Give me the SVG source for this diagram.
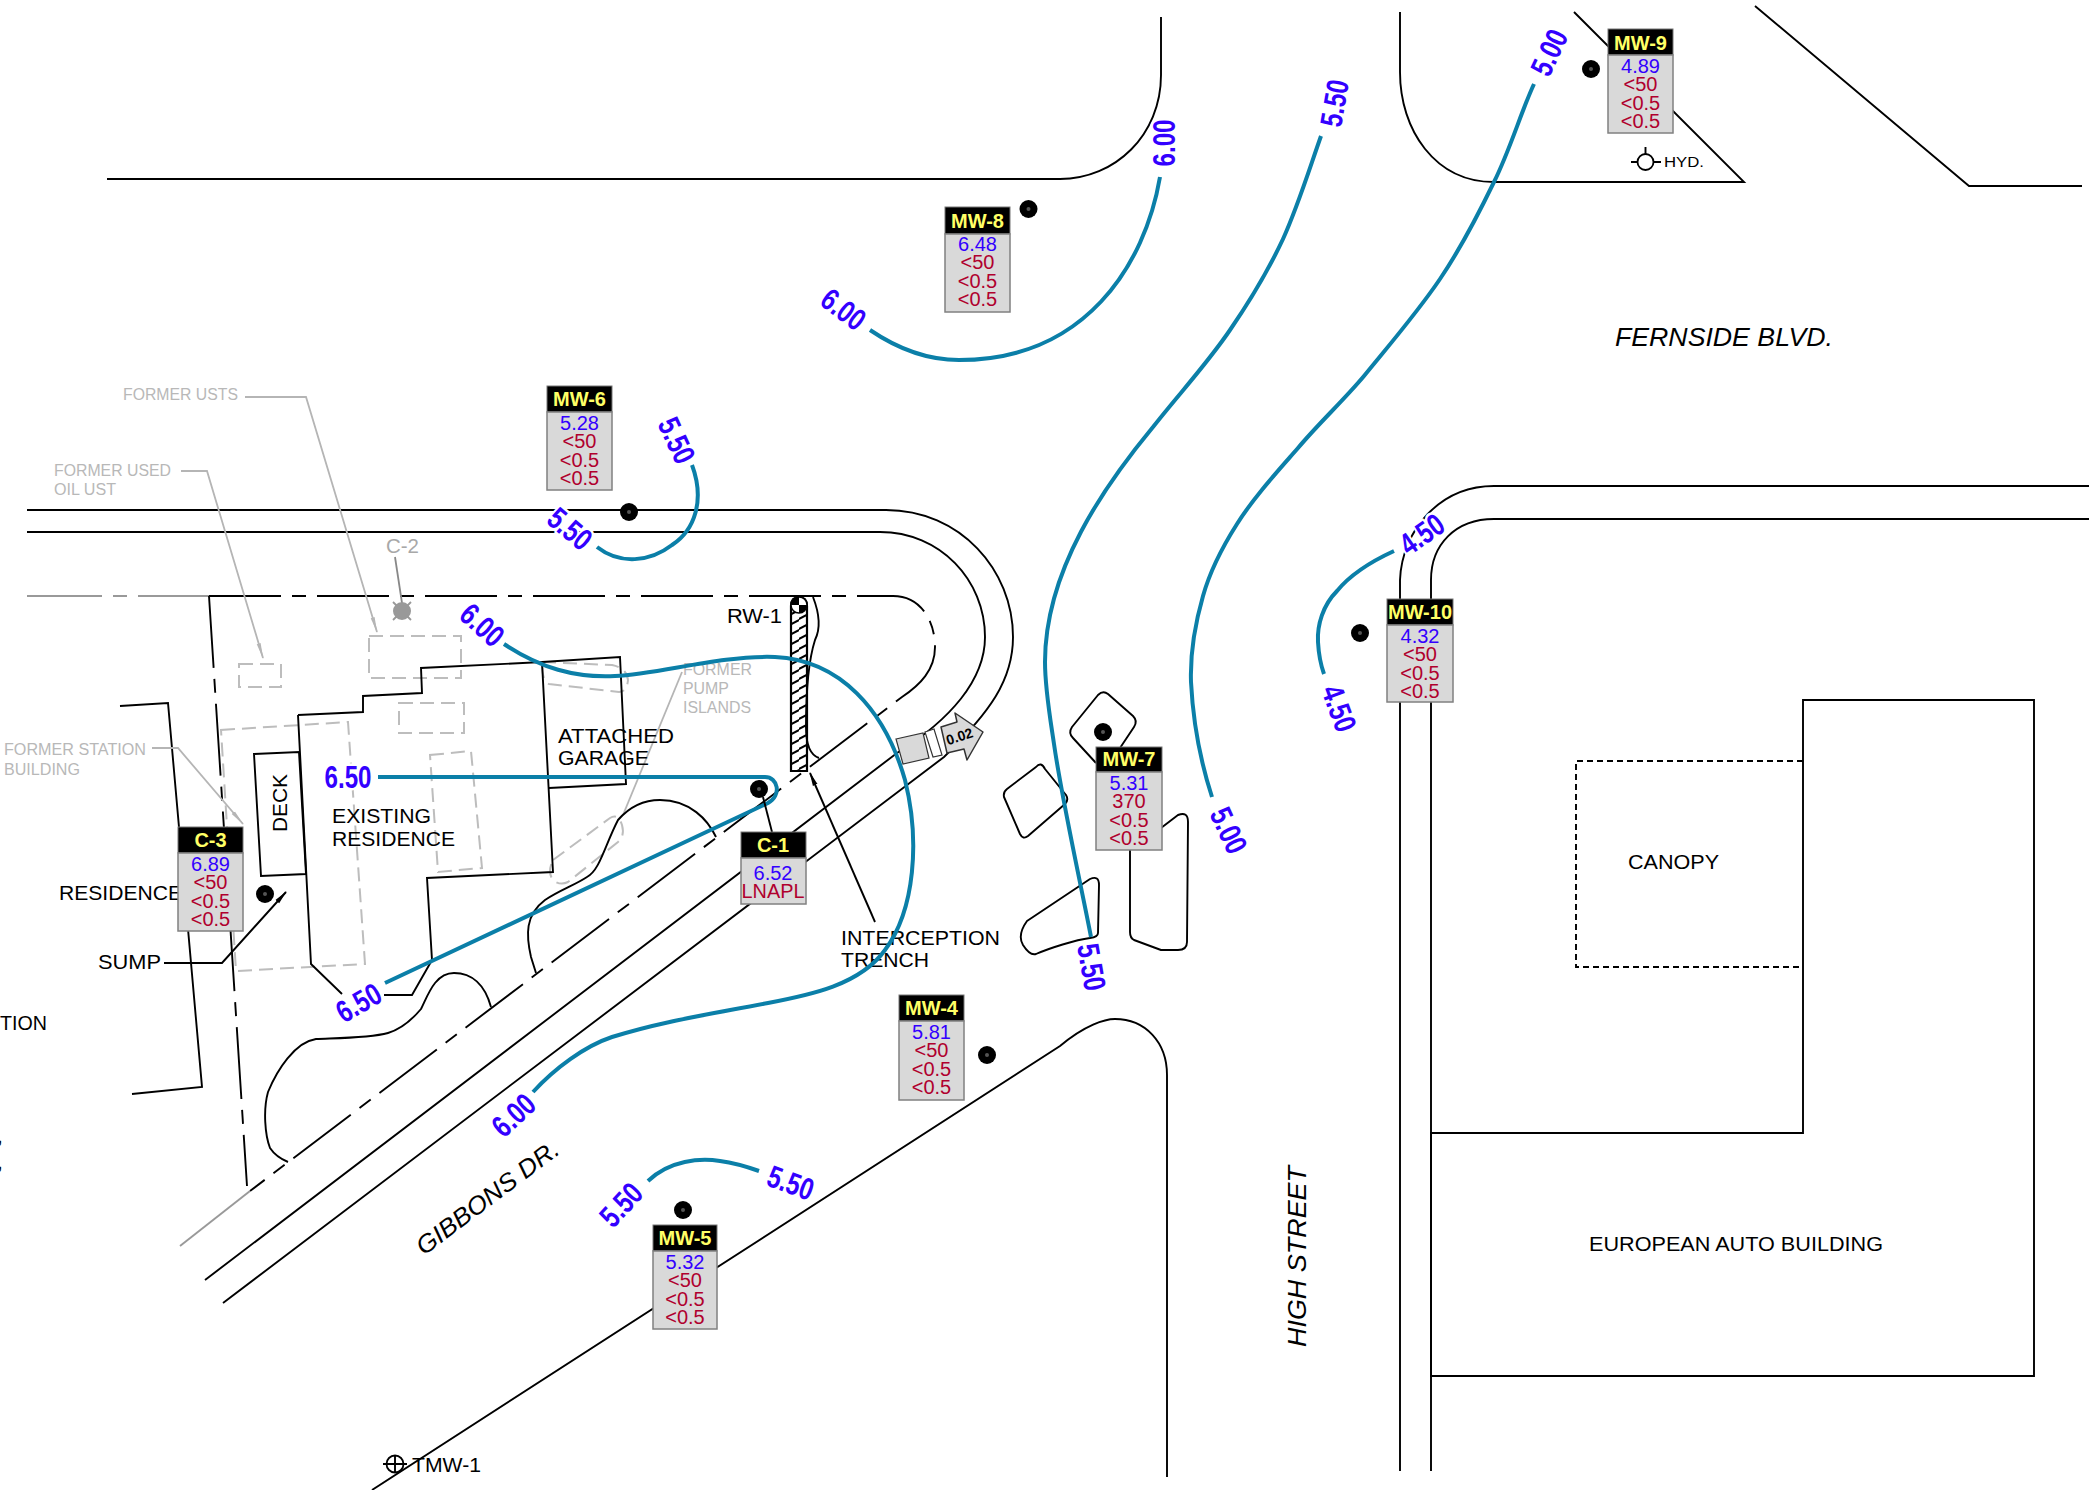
<svg xmlns="http://www.w3.org/2000/svg" width="2089" height="1490" viewBox="0 0 2089 1490">
<style>
text{font-family:"Liberation Sans",Arial,sans-serif}
.k{fill:none;stroke:#000;stroke-width:1.9}
.pl{fill:none;stroke:#000;stroke-width:1.9;stroke-dasharray:72 11 14 11}
.gd{fill:none;stroke:#bdbdbd;stroke-width:2;stroke-dasharray:14 7}
.gl{fill:none;stroke:#b5b5b5;stroke-width:1.8}
.c{fill:none;stroke:#0b7fa8;stroke-width:4}
.t{fill:#000;font-size:21px}
.g{fill:#b8b8b8;font-size:16px}
.it{fill:#000;font-size:25px;font-style:italic}
.cl{fill:#3300ff;font-size:31px;font-weight:bold;text-anchor:middle;stroke:#fff;stroke-width:5;paint-order:stroke;stroke-linejoin:round}
.hd{fill:#000;stroke:#777;stroke-width:1}
.bd{fill:#d9d9d9;stroke:#808080;stroke-width:1.5}
.n{font-size:20px;font-weight:bold;fill:#ffff66;text-anchor:middle}
.b{font-size:20px;fill:#3300ff;text-anchor:middle}
.r{font-size:20px;fill:#b0002e;text-anchor:middle}
.w{fill:#000}
.wc{fill:#555}
</style>
<defs>
<pattern id="hatch" patternUnits="userSpaceOnUse" width="17" height="10">
<path d="M-1,9.500 L18,-0.500 M-1,19.500 L18,9.500" stroke="#000" stroke-width="2" fill="none"/>
</pattern>
<marker id="ah" markerWidth="14" markerHeight="7" refX="13" refY="3.500" orient="auto" markerUnits="userSpaceOnUse"><path d="M0,1 L14,3.500 L0,6 Z" fill="#000"/></marker>
<marker id="ag" markerWidth="16" markerHeight="8" refX="15" refY="4" orient="auto" markerUnits="userSpaceOnUse"><path d="M0,2 L16,4 L0,6 Z" fill="#b5b5b5"/></marker>
</defs>

<g id="roads">
<path class="k" d="M107,179 H1060 C1115,179 1161,135 1161,75 V17"/>
<path class="k" d="M1400,12 V72 C1400,130 1435,182 1494,182 H1744 L1574,12"/>
<path class="k" d="M1755,6 L1969,186 H2082"/>
<path class="k" d="M27,510 H886 C960,510 1013,570 1013,637 C1013,680 990,712 944,757 L223,1303"/>
<path class="k" d="M27,532 H880 C940,532 985,580 985,637 C985,680 950,720 897,753 L205,1280"/>
<path class="pl" d="M209,596 H893 C920,596 935,620 935,647 C935,670 920,685 902,697 L250,1191"/>
<path fill="none" stroke="#999" stroke-width="1.9" stroke-dasharray="75 11 14 11" d="M27,596 H209"/>
<path fill="none" stroke="#999" stroke-width="1.9" d="M250,1191 L180,1246"/>
<path class="pl" d="M209,596 L247,1186"/>
<path class="k" d="M120,706 L168,703 L202,1087 L132,1094"/>
<path class="k" d="M1400,1471 V580 C1402,530 1440,486 1494,486 H2089"/>
<path class="k" d="M1431,1471 V580 C1431,545 1455,519 1494,519 H2089"/>
<path class="k" d="M372,1490 L1060,1046 C1085,1025 1105,1019 1115,1019 C1145,1019 1167,1042 1167,1075 V1477"/>
</g>

<g id="european-auto-building">
<path class="k" d="M1431,1133 H1803 V700 H2034 V1376 H1431 Z"/>
<text class="t" x="1589" y="1251" textLength="294" lengthAdjust="spacingAndGlyphs">EUROPEAN AUTO BUILDING</text>
</g>
<g id="canopy">
<path fill="none" stroke="#000" stroke-width="1.9" stroke-dasharray="6 4" d="M1803,761 H1576 V967 H1803"/>
<text class="t" x="1628" y="869" textLength="91" lengthAdjust="spacingAndGlyphs">CANOPY</text>
</g>

<g id="islands">
<path class="k" stroke-linejoin="round" d="M1096,763 L1073,738 Q1068,733 1072,727 L1098,695 Q1103,690 1108,694 L1133,716 Q1138,721 1134,727 L1120,748"/>
<path class="k" stroke-linejoin="round" d="M1036,767 Q1041,761 1045,769 L1066,795 Q1069,800 1065,804 L1028,836 Q1023,840 1020,834 L1004,797 Q1003,792 1007,789 Z"/>
<path class="k" stroke-linejoin="round" d="M1161,828 L1178,815 Q1188,811 1188,822 L1187,942 Q1187,950 1178,950 L1161,950 L1134,940 Q1130,938 1130,932 V850"/>
<path class="k" stroke-linejoin="round" d="M1090,879 Q1099,875 1099,885 L1098,933 Q1098,937 1090,938 C1075,940 1050,948 1036,954 Q1030,956 1023,945 Q1017,935 1027,921 Z"/>
</g>

<g id="former-features">
<rect class="gd" x="239" y="664" width="42" height="23"/>
<rect class="gd" x="369" y="636" width="92" height="42"/>
<rect class="gd" x="399" y="703" width="65" height="30"/>
<path class="gd" d="M221,730 L348,722 L365,964 L236,971 Z"/>
<path class="gd" d="M430,755 L471,751 L482,868 L438,872 Z"/>
<path class="gd" d="M542,662 L612,665 Q627,668 628,680 Q627,692 619,692 L549,684 Q542,682 542,662 Z"/>
<path class="gd" d="M553,860 L610,818 Q618,813 622,825 Q625,836 618,842 L568,882 Q560,886 553,880 Q547,872 553,860 Z"/>
<path class="gl" marker-end="url(#ag)" d="M245,397 H306 L377,632"/>
<path class="gl" marker-end="url(#ag)" d="M181,471 H207 L263,658"/>
<path class="gl" marker-end="url(#ag)" d="M152,748 H178 L243,824"/>
<path class="gl" d="M682,672 L623,815"/>
<text class="g" x="123" y="400" textLength="115" lengthAdjust="spacingAndGlyphs">FORMER USTS</text>
<text class="g" x="54" y="476" textLength="117" lengthAdjust="spacingAndGlyphs">FORMER USED</text>
<text class="g" x="54" y="495" textLength="62" lengthAdjust="spacingAndGlyphs">OIL UST</text>
<text class="g" x="4" y="755" textLength="142" lengthAdjust="spacingAndGlyphs">FORMER STATION</text>
<text class="g" x="4" y="775" textLength="76" lengthAdjust="spacingAndGlyphs">BUILDING</text>
<text class="g" x="683" y="675" textLength="69" lengthAdjust="spacingAndGlyphs">FORMER</text>
<text class="g" x="683" y="694" textLength="46" lengthAdjust="spacingAndGlyphs">PUMP</text>
<text class="g" x="683" y="713" textLength="68" lengthAdjust="spacingAndGlyphs">ISLANDS</text>
</g>

<g id="residence">
<path class="k" d="M298,715 L363,712 V696 L422,693 L421,668 L542,662 L553,872 L427,878 L432,960 L412,995 H384 M342,994 L311,964 L298,715"/>
<path class="k" d="M254,754 L299,752 L306,874 L261,876 Z"/>
<path class="k" d="M542,662 L620,657 L626,784 L549,788"/>
<path class="k" d="M716,837 C708,820 690,800 660,800 C638,800 625,812 618,820 C605,845 600,870 587,877 C575,885 560,890 545,900 C525,915 526,935 531,957 L536,973"/>
<path class="k" d="M491,1007 C485,985 472,973 454,973 C435,973 428,995 421,1009 C410,1022 398,1030 388,1033 C370,1038 340,1038 316,1039 C295,1042 277,1070 268,1092 C263,1110 265,1135 270,1148 Q276,1157 288,1162"/>
<text class="t" x="558" y="743" textLength="116" lengthAdjust="spacingAndGlyphs">ATTACHED</text>
<text class="t" x="558" y="765" textLength="91" lengthAdjust="spacingAndGlyphs">GARAGE</text>
<text class="t" x="332" y="823" textLength="99" lengthAdjust="spacingAndGlyphs">EXISTING</text>
<text class="t" x="332" y="846" textLength="123" lengthAdjust="spacingAndGlyphs">RESIDENCE</text>
<text class="t" transform="translate(287,832) rotate(-90)" textLength="58" lengthAdjust="spacingAndGlyphs">DECK</text>
<text class="t" x="59" y="900" textLength="123" lengthAdjust="spacingAndGlyphs">RESIDENCE</text>
<path class="k" marker-end="url(#ah)" d="M164,963 H222 L286,892"/>
<text class="t" x="98" y="969" textLength="63" lengthAdjust="spacingAndGlyphs">SUMP</text>
<text class="t" x="0" y="1030" textLength="47" lengthAdjust="spacingAndGlyphs">TION</text>
<text class="t" x="-3" y="1143">,</text>
<text class="t" x="-3" y="1169">,</text>
</g>

<g id="rw-1">
<path d="M791,771 V606 Q791,597 799,597 Q807,597 807,606 V771 Z" fill="url(#hatch)" stroke="#000" stroke-width="2.200"/>
<circle cx="799" cy="605" r="8" fill="#fff" stroke="#000" stroke-width="1.500"/>
<path d="M799,597 A8,8 0 0 0 791,605 H799 Z M799,605 H807 A8,8 0 0 1 799,613 Z" fill="#000"/>
<path class="k" d="M813,597 C820,615 820,630 815,640 C808,662 806,690 806,727 C806,745 810,755 819,758"/>
<text class="t" x="727" y="623" textLength="55" lengthAdjust="spacingAndGlyphs">RW-1</text>
</g>

<g id="interception-trench">
<path class="k" marker-end="url(#ah)" d="M875,922 L810,773"/>
<text class="t" x="841" y="945" textLength="159" lengthAdjust="spacingAndGlyphs">INTERCEPTION</text>
<text class="t" x="841" y="967" textLength="88" lengthAdjust="spacingAndGlyphs">TRENCH</text>
</g>

<g id="street-names">
<text class="it" x="1615" y="346" textLength="218" lengthAdjust="spacingAndGlyphs">FERNSIDE BLVD.</text>
<text class="it" transform="translate(1306,1347) rotate(-90)" textLength="181" lengthAdjust="spacingAndGlyphs">HIGH STREET</text>
<text class="it" transform="translate(424,1256) rotate(-37)" textLength="172" lengthAdjust="spacingAndGlyphs">GIBBONS DR.</text>
</g>

<g id="contours">
<path class="c" d="M1160,177 C1145,265 1085,360 959,360 C925,360 895,347 870,330"/>
<path class="c" d="M1321,136 C1309,170 1298,206 1283,239 C1268,271 1250,301 1230,330 C1207,364 1178,395 1153,427 C1105,485 1045,570 1045,662 C1045,689 1050,717 1054,744 C1062,800 1082,890 1091,937"/>
<path class="c" d="M1534,84 C1521,112 1510,150 1494,182 C1478,215 1461,248 1440,279 C1417,313 1390,344 1364,376 C1343,401 1319,423 1298,448 C1277,472 1254,497 1237,524 C1223,546 1210,571 1203,596 C1195,624 1190,653 1191,682 C1193,721 1200,760 1212,797"/>
<path class="c" d="M692,465 C705,500 695,530 672,545 C650,562 620,565 597,547"/>
<path class="c" d="M504,644 C540,668 575,678 615,676 C660,674 720,655 775,657 C840,660 885,710 905,780 C920,840 915,910 885,950 C860,985 810,995 768,1003 C700,1016 660,1022 612,1037 C585,1046 555,1068 533,1092"/>
<path class="c" d="M378,777 H765 C778,777 782,795 768,803 L385,983"/>
<path class="c" d="M648,1181 C670,1160 700,1158 720,1161 C735,1163 745,1166 759,1171"/>
<path class="c" d="M1394,551 C1370,562 1350,575 1337,591 C1323,605 1317,625 1318,642 Q1319,660 1324,674"/>
</g>

<g id="contour-labels">
<text class="cl" transform="translate(1175,143) rotate(-90)" textLength="47" lengthAdjust="spacingAndGlyphs">6.00</text>
<text class="cl" transform="translate(1345,105) rotate(-80)" textLength="47" lengthAdjust="spacingAndGlyphs">5.50</text>
<text class="cl" transform="translate(1559,57) rotate(-65)" textLength="47" lengthAdjust="spacingAndGlyphs">5.00</text>
<text class="cl" transform="translate(837,318) rotate(37)" textLength="47" lengthAdjust="spacingAndGlyphs">6.00</text>
<text class="cl" transform="translate(667,445) rotate(65)" textLength="47" lengthAdjust="spacingAndGlyphs">5.50</text>
<text class="cl" transform="translate(563,537) rotate(40)" textLength="47" lengthAdjust="spacingAndGlyphs">5.50</text>
<text class="cl" transform="translate(475,633) rotate(42)" textLength="47" lengthAdjust="spacingAndGlyphs">6.00</text>
<text class="cl" transform="translate(348,788)" textLength="47" lengthAdjust="spacingAndGlyphs">6.50</text>
<text class="cl" transform="translate(364,1012) rotate(-30)" textLength="47" lengthAdjust="spacingAndGlyphs">6.50</text>
<text class="cl" transform="translate(521,1123) rotate(-43)" textLength="47" lengthAdjust="spacingAndGlyphs">6.00</text>
<text class="cl" transform="translate(629,1212) rotate(-47)" textLength="47" lengthAdjust="spacingAndGlyphs">5.50</text>
<text class="cl" transform="translate(787,1193) rotate(20)" textLength="47" lengthAdjust="spacingAndGlyphs">5.50</text>
<text class="cl" transform="translate(1081,969) rotate(80)" textLength="47" lengthAdjust="spacingAndGlyphs">5.50</text>
<text class="cl" transform="translate(1219,835) rotate(65)" textLength="47" lengthAdjust="spacingAndGlyphs">5.00</text>
<text class="cl" transform="translate(1329,712) rotate(70)" textLength="47" lengthAdjust="spacingAndGlyphs">4.50</text>
<text class="cl" transform="translate(1428,543) rotate(-35)" textLength="47" lengthAdjust="spacingAndGlyphs">4.50</text>
</g>

<g id="flow-arrow">
<path d="M896,739 L923,733 L929,758 L903,764 Z" fill="#d9d9d9" stroke="#333" stroke-width="1.200"/>
<path d="M925,732 L934,729 L942,755 L933,757 Z" fill="#fff" stroke="#333" stroke-width="1.200"/>
<path d="M941,727 L957,722 L955,713 L983,732 L967,760 L964,749 L947,753 Z" fill="#d9d9d9" stroke="#333" stroke-width="1.500" stroke-linejoin="round"/>
<text transform="translate(961,741) rotate(-18)" font-size="14" font-weight="bold" text-anchor="middle" fill="#000">0.02</text>
</g>

<g id="C-2">
<path fill="none" stroke="#888" stroke-width="1.800" d="M395,557 L402,603"/>
<path stroke="#999" stroke-width="1.800" d="M393,602 L411,620 M411,602 L393,620"/>
<circle cx="402" cy="611" r="9" fill="#999"/>
<text x="386" y="553" font-size="21" fill="#a8a8a8" textLength="33" lengthAdjust="spacingAndGlyphs">C-2</text>
</g>

<g id="HYD">
<circle cx="1645.500" cy="162" r="8" fill="#fff" stroke="#000" stroke-width="1.800"/>
<path class="k" d="M1631,162 H1637.500 M1654,162 H1661 M1645.500,147 V154"/>
<text x="1664" y="167" font-size="15" fill="#000" textLength="40" lengthAdjust="spacingAndGlyphs">HYD.</text>
</g>

<g id="TMW-1">
<circle cx="395" cy="1464" r="8.500" fill="none" stroke="#000" stroke-width="1.800"/>
<path class="k" d="M383,1464 H407 M395,1455 V1473"/>
<text class="t" x="412" y="1472" textLength="69" lengthAdjust="spacingAndGlyphs">TMW-1</text>
</g>

<g id="MW-9">
<circle class="w" cx="1591" cy="69" r="9"/><circle class="wc" cx="1591" cy="69" r="2"/>
<rect class="hd" x="1608" y="29" width="65" height="26"/><rect class="bd" x="1608" y="55" width="65" height="78"/>
<text class="n" x="1640.500" y="50">MW-9</text>
<text class="b" x="1640.500" y="73">4.89</text><text class="r" x="1640.500" y="91">&lt;50</text><text class="r" x="1640.500" y="109.500">&lt;0.5</text><text class="r" x="1640.500" y="128">&lt;0.5</text>
</g>
<g id="MW-8">
<circle class="w" cx="1028.500" cy="209" r="9"/><circle class="wc" cx="1028.500" cy="209" r="2"/>
<rect class="hd" x="945" y="207" width="65" height="27"/><rect class="bd" x="945" y="234" width="65" height="78"/>
<text class="n" x="977.500" y="228">MW-8</text>
<text class="b" x="977.500" y="251">6.48</text><text class="r" x="977.500" y="269">&lt;50</text><text class="r" x="977.500" y="287.500">&lt;0.5</text><text class="r" x="977.500" y="306">&lt;0.5</text>
</g>
<g id="MW-6">
<circle class="w" cx="629" cy="512" r="9"/><circle class="wc" cx="629" cy="512" r="2"/>
<rect class="hd" x="547" y="386" width="65" height="26"/><rect class="bd" x="547" y="412" width="65" height="78"/>
<text class="n" x="579.500" y="406">MW-6</text>
<text class="b" x="579.500" y="430">5.28</text><text class="r" x="579.500" y="448">&lt;50</text><text class="r" x="579.500" y="466.500">&lt;0.5</text><text class="r" x="579.500" y="485">&lt;0.5</text>
</g>
<g id="C-3">
<circle class="w" cx="265" cy="894" r="9"/><circle class="wc" cx="265" cy="894" r="2"/>
<rect class="hd" x="178" y="827" width="65" height="26"/><rect class="bd" x="178" y="853" width="65" height="78"/>
<text class="n" x="210.500" y="847">C-3</text>
<text class="b" x="210.500" y="871">6.89</text><text class="r" x="210.500" y="889">&lt;50</text><text class="r" x="210.500" y="907.500">&lt;0.5</text><text class="r" x="210.500" y="926">&lt;0.5</text>
</g>
<g id="C-1">
<circle class="w" cx="759" cy="789" r="9"/><circle class="wc" cx="759" cy="789" r="2"/>
<path class="k" d="M763,797 L772,832"/>
<rect class="hd" x="741" y="832" width="65" height="26"/><rect class="bd" x="741" y="858" width="65" height="46"/>
<text class="n" x="773" y="852">C-1</text>
<text class="b" x="773" y="880">6.52</text><text class="r" x="773" y="898" textLength="63" lengthAdjust="spacingAndGlyphs">LNAPL</text>
</g>
<g id="MW-7">
<circle class="w" cx="1103" cy="732" r="9"/><circle class="wc" cx="1103" cy="732" r="2"/>
<rect class="hd" x="1096" y="747" width="66" height="25"/><rect class="bd" x="1096" y="772" width="66" height="78"/>
<text class="n" x="1129" y="766">MW-7</text>
<text class="b" x="1129" y="790">5.31</text><text class="r" x="1129" y="808">370</text><text class="r" x="1129" y="826.500">&lt;0.5</text><text class="r" x="1129" y="845">&lt;0.5</text>
</g>
<g id="MW-10">
<circle class="w" cx="1360" cy="633" r="9"/><circle class="wc" cx="1360" cy="633" r="2"/>
<rect class="hd" x="1387" y="599" width="66" height="26"/><rect class="bd" x="1387" y="625" width="66" height="77"/>
<text class="n" x="1420" y="619">MW-10</text>
<text class="b" x="1420" y="643">4.32</text><text class="r" x="1420" y="661">&lt;50</text><text class="r" x="1420" y="679.500">&lt;0.5</text><text class="r" x="1420" y="698">&lt;0.5</text>
</g>
<g id="MW-4">
<circle class="w" cx="987" cy="1055" r="9"/><circle class="wc" cx="987" cy="1055" r="2"/>
<rect class="hd" x="899" y="995" width="65" height="26"/><rect class="bd" x="899" y="1021" width="65" height="79"/>
<text class="n" x="931.500" y="1015">MW-4</text>
<text class="b" x="931.500" y="1039">5.81</text><text class="r" x="931.500" y="1057">&lt;50</text><text class="r" x="931.500" y="1075.500">&lt;0.5</text><text class="r" x="931.500" y="1094">&lt;0.5</text>
</g>
<g id="MW-5">
<circle class="w" cx="683" cy="1210" r="9"/><circle class="wc" cx="683" cy="1210" r="2"/>
<rect class="hd" x="653" y="1225" width="64" height="26"/><rect class="bd" x="653" y="1251" width="64" height="78"/>
<text class="n" x="685" y="1245">MW-5</text>
<text class="b" x="685" y="1269">5.32</text><text class="r" x="685" y="1287">&lt;50</text><text class="r" x="685" y="1305.500">&lt;0.5</text><text class="r" x="685" y="1324">&lt;0.5</text>
</g>
</svg>
